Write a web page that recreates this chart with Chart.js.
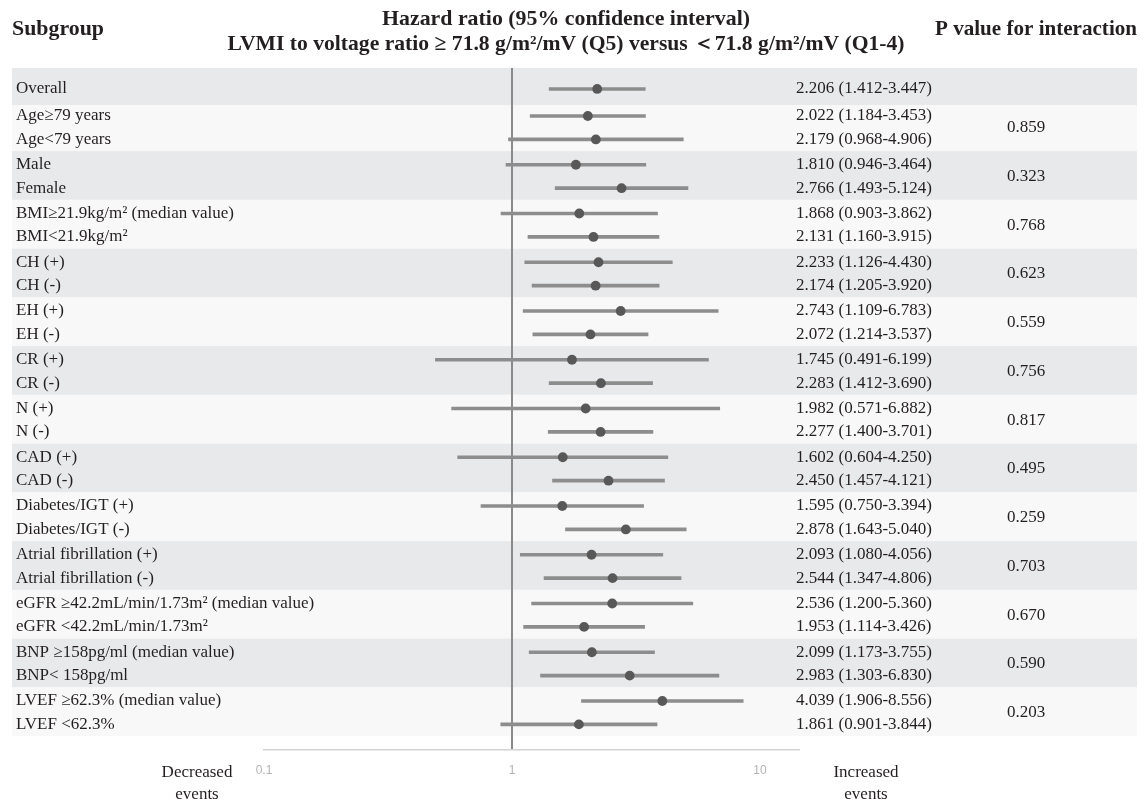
<!DOCTYPE html>
<html>
<head>
<meta charset="utf-8">
<title>Forest plot – LVMI to voltage ratio</title>
<script src="https://cdn.jsdelivr.net/npm/chart.js@4.4.1/dist/chart.umd.min.js"></script>
<style>
  html, body { margin: 0; padding: 0; background: #ffffff; }
  #wrap { position: relative; width: 1144px; height: 802px; }
</style>
</head>
<body>
<div id="wrap"><canvas id="forest" width="1144" height="802"></canvas></div>
<script>
// ---- data ----------------------------------------------------------------
const overallLabel = 'Overall';
const overallHR = 2.206;
const overallLo = 1.412;
const overallHi = 3.447;

// subgroup pairs: each entry holds the two rows of one comparison
const subgroupLabels = [
  ['Age\u226579 years', 'Age<79 years'],
  ['Male', 'Female'],
  ['BMI\u226521.9kg/m\u00b2 (median value)', 'BMI<21.9kg/m\u00b2'],
  ['CH (+)', 'CH (-)'],
  ['EH (+)', 'EH (-)'],
  ['CR (+)', 'CR (-)'],
  ['N (+)', 'N (-)'],
  ['CAD (+)', 'CAD (-)'],
  ['Diabetes/IGT (+)', 'Diabetes/IGT (-)'],
  ['Atrial fibrillation (+)', 'Atrial fibrillation (-)'],
  ['eGFR \u226542.2mL/min/1.73m\u00b2 (median value)', 'eGFR <42.2mL/min/1.73m\u00b2'],
  ['BNP \u2265158pg/ml (median value)', 'BNP< 158pg/ml'],
  ['LVEF \u226562.3% (median value)', 'LVEF <62.3%']
];
const hazardRatios = [
  [2.022, 2.179], [1.810, 2.766], [1.868, 2.131], [2.233, 2.174],
  [2.743, 2.072], [1.745, 2.283], [1.982, 2.277], [1.602, 2.450],
  [1.595, 2.878], [2.093, 2.544], [2.536, 1.953], [2.099, 2.983],
  [4.039, 1.861]
];
const ciLower = [
  [1.184, 0.968], [0.946, 1.493], [0.903, 1.160], [1.126, 1.205],
  [1.109, 1.214], [0.491, 1.412], [0.571, 1.400], [0.604, 1.457],
  [0.750, 1.643], [1.080, 1.347], [1.200, 1.114], [1.173, 1.303],
  [1.906, 0.901]
];
const ciUpper = [
  [3.453, 4.906], [3.464, 5.124], [3.862, 3.915], [4.430, 3.920],
  [6.783, 3.537], [6.199, 3.690], [6.882, 3.701], [4.250, 4.121],
  [3.394, 5.040], [4.056, 4.806], [5.360, 3.426], [3.755, 6.830],
  [8.556, 3.844]
];
const pInteraction = ['0.859', '0.323', '0.768', '0.623', '0.559', '0.756', '0.817',
                      '0.495', '0.259', '0.703', '0.670', '0.590', '0.203'];
const axisTicks = [0.1, 1, 10];

// ---- row layout (vertical units of the y scale) --------------------------
const OVERALL_POS = -1.11;
const rowPos = (g, k) => 2 * g + 0.96 * k;

const fmt = v => v.toFixed(3);

const rows = [{ label: overallLabel, hr: overallHR, lo: overallLo, hi: overallHi, y: OVERALL_POS }];
subgroupLabels.forEach((pair, g) => {
  pair.forEach((lab, k) => {
    rows.push({ label: lab, hr: hazardRatios[g][k], lo: ciLower[g][k], hi: ciUpper[g][k], y: rowPos(g, k) });
  });
});

const SERIF = '"Liberation Serif", "Times New Roman", serif';
const TEXT = '#231f20';

// background bands and all table text
const tablePlugin = {
  id: 'forestTable',
  beforeDraw(chart) {
    const { ctx } = chart;
    const y = chart.scales.y;
    const L = 12, R = 1137;
    const band = (a, b, color) => {
      const t = y.getPixelForValue(a), bt = y.getPixelForValue(b);
      ctx.fillStyle = color;
      ctx.fillRect(L, t, R - L, bt - t);
    };
    ctx.save();
    band(y.min, -0.45, '#e8e9eb');
    subgroupLabels.forEach((_, g) => {
      const top = g === 0 ? -0.45 : 2 * g - 0.56;
      band(top, 2 * g + 1.44, g % 2 === 0 ? '#f8f8f8' : '#e8e9eb');
    });
    ctx.restore();
  },
  afterDraw(chart) {
    const { ctx } = chart;
    const y = chart.scales.y;
    ctx.save();
    ctx.fillStyle = TEXT;
    ctx.textBaseline = 'middle';

    // headers
    ctx.font = 'bold 22px ' + SERIF;
    ctx.textAlign = 'left';
    ctx.fillText('Subgroup', 12, 29, 92);
    ctx.fillText('P value for interaction', 935, 29, 202);
    ctx.textAlign = 'center';
    ctx.fillText('Hazard ratio (95% confidence interval)', 566, 19, 368);
    ctx.fillText('LVMI to voltage ratio \u2265 71.8 g/m\u00b2/mV (Q5) versus \uff1c71.8 g/m\u00b2/mV (Q1-4)', 566, 44, 677);

    // row labels and estimates
    ctx.font = '17px ' + SERIF;
    rows.forEach(r => {
      const py = y.getPixelForValue(r.y);
      ctx.textAlign = 'left';
      ctx.fillText(r.label, 16, py);
      ctx.fillText(fmt(r.hr) + ' (' + fmt(r.lo) + '-' + fmt(r.hi) + ')', 796, py);
    });

    // interaction p values, centred on each pair
    ctx.textAlign = 'center';
    pInteraction.forEach((p, g) => {
      const py = (y.getPixelForValue(rowPos(g, 0)) + y.getPixelForValue(rowPos(g, 1))) / 2;
      ctx.fillText(p, 1026, py);
    });

    // direction captions under the axis
    ctx.fillText('Decreased', 197, 773);
    ctx.fillText('events', 197, 795);
    ctx.fillText('Increased', 866, 773);
    ctx.fillText('events', 866, 795);
    ctx.restore();
  }
};

new Chart(document.getElementById('forest'), {
  type: 'bar',
  data: {
    datasets: [
      {
        type: 'bar',
        data: rows.map(r => ({ x: [r.lo, r.hi], y: r.y })),
        backgroundColor: '#8d8d8d',
        borderWidth: 0,
        barThickness: 3,
        order: 2
      },
      {
        type: 'scatter',
        data: rows.map(r => ({ x: r.hr, y: r.y })),
        backgroundColor: '#585858',
        borderWidth: 0,
        pointRadius: 4.9,
        pointHoverRadius: 4.9,
        order: 1
      }
    ]
  },
  options: {
    indexAxis: 'y',
    responsive: false,
    animation: false,
    events: [],
    layout: { padding: { top: 68, left: 264, right: 344, bottom: 0 } },
    plugins: { legend: { display: false }, tooltip: { enabled: false } },
    scales: {
      x: {
        type: 'logarithmic',
        position: 'bottom',
        offset: false,
        min: 0.1,
        max: 14.5,
        afterBuildTicks: s => { s.ticks = axisTicks.map(v => ({ value: v })); },
        afterFit: s => { s.height = 52; },
        ticks: {
          color: '#b3b3b3',
          padding: 13,
          maxRotation: 0,
          font: { family: '"Liberation Sans", Arial, sans-serif', size: 12 },
          callback: v => String(v)
        },
        grid: {
          offset: false,
          drawTicks: false,
          color: c => (c.tick && c.tick.value === 1 ? '#8a8a8a' : 'rgba(0,0,0,0)'),
          lineWidth: c => (c.tick && c.tick.value === 1 ? 2 : 0)
        },
        border: { display: true, color: '#d2d2d2', width: 1.5 }
      },
      y: {
        type: 'linear',
        display: false,
        offset: false,
        grid: { offset: false },
        reverse: true,
        min: -1.97,
        max: 26.01
      }
    }
  },
  plugins: [tablePlugin]
});
</script>
</body>
</html>
